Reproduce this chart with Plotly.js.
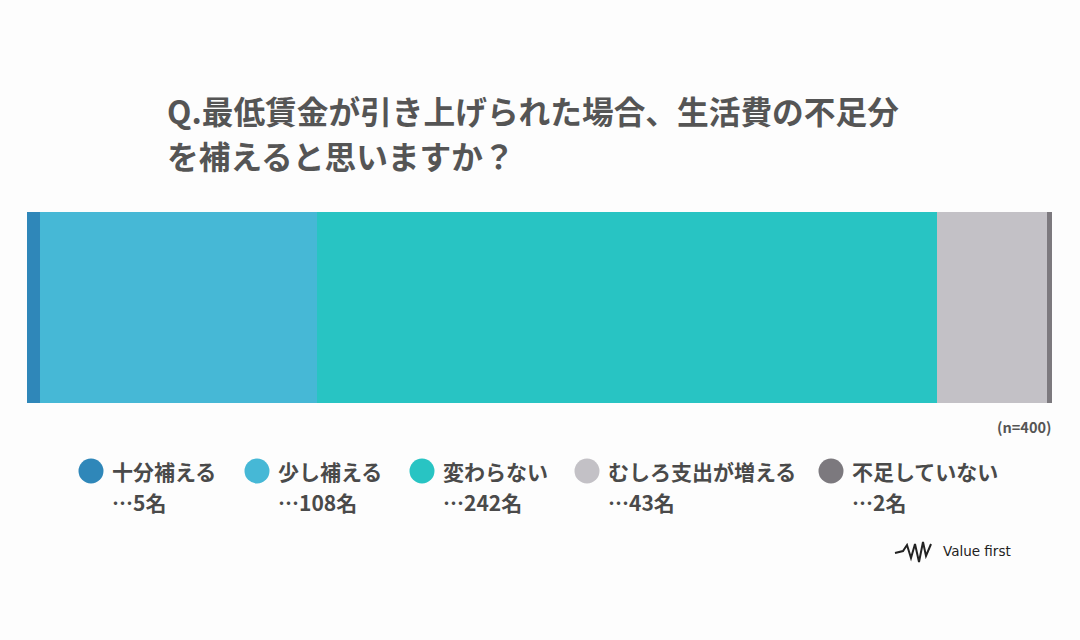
<!DOCTYPE html>
<html><head><meta charset="utf-8">
<script src="https://cdn.plot.ly/plotly-3.0.1.min.js"></script>
<style>html,body{margin:0;padding:0;background:#fdfdfd;}#chart{width:1080px;height:640px;}</style>
</head><body><div id="chart"></div>
<script>
const categories = ["十分補える", "少し補える", "変わらない", "むしろ支出が増える", "不足していない"];
const counts = [5, 108, 242, 43, 2];
const colors = ["#2f87b9", "#46b8d6", "#28c4c3", "#c3c1c6", "#7c797e"];
const titleLines = ["Q.最低賃金が引き上げられた場合、生活費の不足分", "を補えると思いますか？"];
const sampleNote = "(n=400)";
const legendX = [91, 257, 422, 587, 831];

const W = 1080, H = 640, ML = 27, MR = 28, MT = 212, MB = 237;
const PW = W - ML - MR, PH = H - MT - MB;
const px2x = p => (p - ML) / PW;
const px2y = p => 1 - (p - MT) / PH;
const FONT = '"Noto Sans CJK JP", "Noto Sans", sans-serif';

const traces = categories.map((c, i) => ({
  type: 'bar', orientation: 'h', name: c,
  x: [counts[i]], y: ['q'],
  marker: {color: colors[i], line: {width: 0}},
  hoverinfo: 'none', showlegend: false
}));

const annotations = [];
const shapes = [];
titleLines.forEach((t, i) => {
  annotations.push({xref: 'paper', yref: 'paper', x: px2x(165), y: px2y(110 + i * 45),
    xanchor: 'left', yanchor: 'middle', showarrow: false, text: '<b>' + t + '</b>',
    font: {family: FONT, size: 31.7, color: '#555555'}});
});
annotations.push({xref: 'paper', yref: 'paper', x: px2x(1053), y: px2y(426),
  xanchor: 'right', yanchor: 'middle', showarrow: false, text: '<b>' + sampleNote + '</b>',
  font: {family: FONT, size: 14.5, color: '#555555'}});

categories.forEach((c, i) => {
  const cx = legendX[i];
  shapes.push({type: 'circle', xref: 'paper', yref: 'paper',
    x0: px2x(cx - 12.5), x1: px2x(cx + 12.5), y0: px2y(471 + 12.5), y1: px2y(471 - 12.5),
    fillcolor: colors[i], line: {width: 0}});
  annotations.push({xref: 'paper', yref: 'paper', x: px2x(cx + 19), y: px2y(471),
    xanchor: 'left', yanchor: 'middle', showarrow: false, text: '<b>' + c + '</b>',
    font: {family: FONT, size: 21, color: '#4a4a4a'}});
  annotations.push({xref: 'paper', yref: 'paper', x: px2x(cx + 19), y: px2y(502),
    xanchor: 'left', yanchor: 'middle', showarrow: false, text: '<b>…' + counts[i] + '名</b>',
    font: {family: FONT, size: 21, color: '#4a4a4a'}});
});

// logo
shapes.push({type: 'path', xref: 'paper', yref: 'paper',
  path: 'M ' + px2x(895) + ',' + px2y(553) + ' L ' + px2x(903) + ',' + px2y(551) +
        ' L ' + px2x(907) + ',' + px2y(545) + ' L ' + px2x(911) + ',' + px2y(558) +
        ' L ' + px2x(915) + ',' + px2y(544) + ' L ' + px2x(919) + ',' + px2y(562) +
        ' L ' + px2x(923) + ',' + px2y(542) + ' L ' + px2x(926) + ',' + px2y(556) +
        ' L ' + px2x(931) + ',' + px2y(544),
  line: {color: '#222222', width: 2}});
annotations.push({xref: 'paper', yref: 'paper', x: px2x(941), y: px2y(551),
  xanchor: 'left', yanchor: 'middle', showarrow: false, text: 'Value first',
  font: {family: '"DejaVu Sans", sans-serif', size: 13.5, color: '#222222'}});

const layout = {
  width: W, height: H,
  margin: {l: ML, r: MR, t: MT, b: MB, pad: 0},
  paper_bgcolor: '#fdfdfd', plot_bgcolor: '#fdfdfd',
  barmode: 'stack', bargap: 0,
  xaxis: {range: [0, counts.reduce((a, b) => a + b, 0)], visible: false, fixedrange: true},
  yaxis: {range: [-0.5, 0.5], visible: false, fixedrange: true},
  showlegend: false,
  annotations: annotations, shapes: shapes
};
Plotly.newPlot('chart', traces, layout, {displayModeBar: false, staticPlot: true});
</script></body></html>
